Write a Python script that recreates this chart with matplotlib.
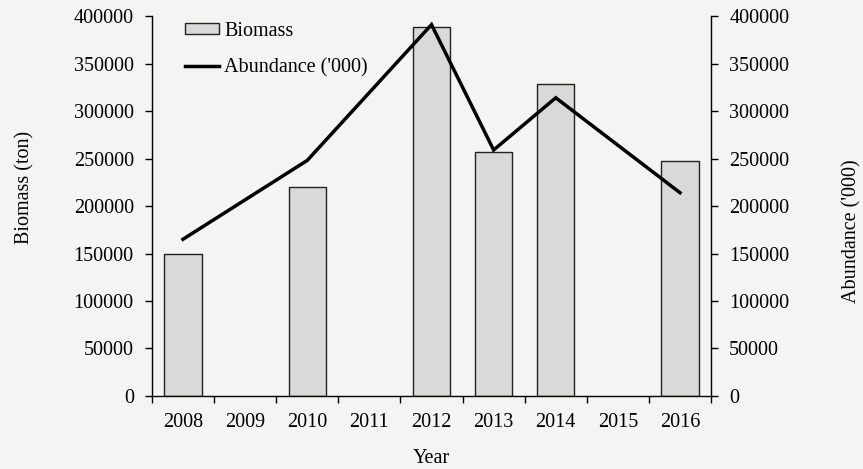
import matplotlib
matplotlib.use("Agg")
import matplotlib.pyplot as plt
from matplotlib.patches import Patch
from matplotlib.lines import Line2D

years = ["2008", "2009", "2010", "2011", "2012", "2013", "2014", "2015", "2016"]
biomass = [150000, None, 220000, None, 388000, 257000, 328000, None, 247000]
abundance = [165000, None, 248000, None, 391000, 259000, 314000, None, 214000]
yticks = [0, 50000, 100000, 150000, 200000, 250000, 300000, 350000, 400000]

plt.rcParams["font.family"] = ["Liberation Serif", "DejaVu Serif"]
plt.rcParams["font.size"] = 14.5

bg = "#f4f4f2"
fig = plt.figure(figsize=(8.63, 4.69), dpi=100, facecolor=bg)
ax = fig.add_axes([0.176, 0.1557, 0.648, 0.81])
ax.set_facecolor(bg)

x_idx = list(range(len(years)))
bx = [i for i, v in zip(x_idx, biomass) if v is not None]
bv = [v for v in biomass if v is not None]
ax.bar(bx, bv, width=0.6, color="#d9d9d9", edgecolor="#222222", linewidth=1.0, zorder=2)

ax.set_xlim(-0.5, len(years) - 0.5)
ax.set_ylim(0, 400000)
ax.set_yticks(yticks)
ax.set_yticklabels([str(t) for t in yticks])
ax.set_xticks(x_idx)
ax.set_xticklabels(years)
ax.set_xticks([i - 0.5 for i in range(len(years) + 1)], minor=True)
ax.tick_params(axis="x", which="major", length=0, pad=12)
ax.tick_params(axis="x", which="minor", length=5, width=1.0, direction="out")
ax.tick_params(axis="y", length=5, width=1.0, direction="out", pad=8)
for s in ["top", "right"]:
    ax.spines[s].set_visible(False)
for s in ["left", "bottom"]:
    ax.spines[s].set_linewidth(1.0)

ax.set_xlabel("Year")
ax.xaxis.set_label_coords(0.5, -0.14)
ax.set_ylabel("Biomass (ton)")
ax.yaxis.set_label_coords(-0.21, 0.55)

ax2 = ax.twinx()
ax2.set_ylim(0, 400000)
ax2.set_yticks(yticks)
ax2.set_yticklabels([str(t) for t in yticks])
ax2.tick_params(axis="y", length=5, width=1.0, direction="out", pad=8)
for s in ["top", "left", "bottom"]:
    ax2.spines[s].set_visible(False)
ax2.spines["right"].set_linewidth(1.0)

lx = [i for i, v in zip(x_idx, abundance) if v is not None]
lv = [v for v in abundance if v is not None]
ax2.plot(lx, lv, color="black", linewidth=2.5, solid_joinstyle="miter", zorder=3)

ax2.set_ylabel("Abundance ('000)")
ax2.yaxis.set_label_coords(1.234, 0.434)

handles = [
    Patch(facecolor="#d9d9d9", edgecolor="#222222", linewidth=1.0),
    Line2D([0], [0], color="black", linewidth=2.5),
]
fig.legend(handles, ["Biomass", "Abundance ('000)"], loc="upper left",
           bbox_to_anchor=(0.193, 0.992), frameon=False,
           handlelength=1.7, handleheight=0.5, handletextpad=0.25,
           labelspacing=0.85)

fig.savefig("out.png", dpi=100, facecolor=bg)
